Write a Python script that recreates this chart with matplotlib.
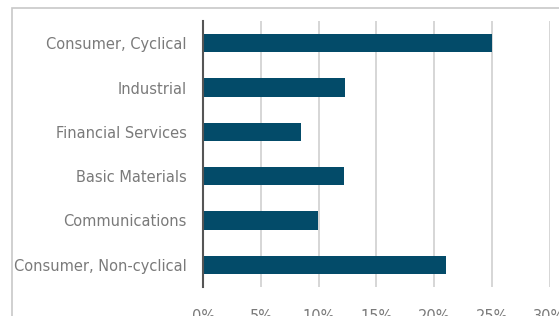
import matplotlib
matplotlib.use("Agg")
import matplotlib.pyplot as plt
from matplotlib.patches import Rectangle

categories = ["Consumer, Non-cyclical", "Communications", "Basic Materials",
              "Financial Services", "Industrial", "Consumer, Cyclical"]
weights = [0.210, 0.099, 0.122, 0.085, 0.123, 0.250]
xticks = [0, 0.05, 0.10, 0.15, 0.20, 0.25, 0.30]
xticklabels = ["0%", "5%", "10%", "15%", "20%", "25%", "30%"]

W, H = 559, 316
fig = plt.figure(figsize=(W / 100, H / 100), dpi=100)

# outer frame of the (cropped) chart
fig.patches.append(Rectangle((12 / W, -0.1), 1.2, 1 - 8 / H + 0.1,
                             transform=fig.transFigure, fill=False,
                             edgecolor="#c8c8c8", linewidth=1.2))

ax = fig.add_axes([203.3 / W, 1 - 287 / H, 346.2 / W, 266 / H])
ax.barh(range(len(categories)), weights, height=0.41, color="#034b69", zorder=3)
ax.set_ylim(-0.5, len(categories) - 0.5)
ax.set_xlim(0, 0.30)

ax.set_yticks(range(len(categories)))
ax.set_yticklabels(categories)
ax.set_xticks(xticks)
ax.set_xticklabels(xticklabels)
ax.tick_params(axis="both", length=0, colors="#7a7a7a", labelsize=10.5)
ax.tick_params(axis="y", pad=12)
ax.tick_params(axis="x", pad=16)

ax.grid(axis="x", color="#d3d3d3", linewidth=1.3, zorder=0)
for s in ["top", "right", "bottom"]:
    ax.spines[s].set_visible(False)
ax.spines["left"].set_color("#555555")
ax.spines["left"].set_linewidth(1.5)
ax.spines["left"].set_zorder(4)

fig.savefig("out.png", dpi=100)
